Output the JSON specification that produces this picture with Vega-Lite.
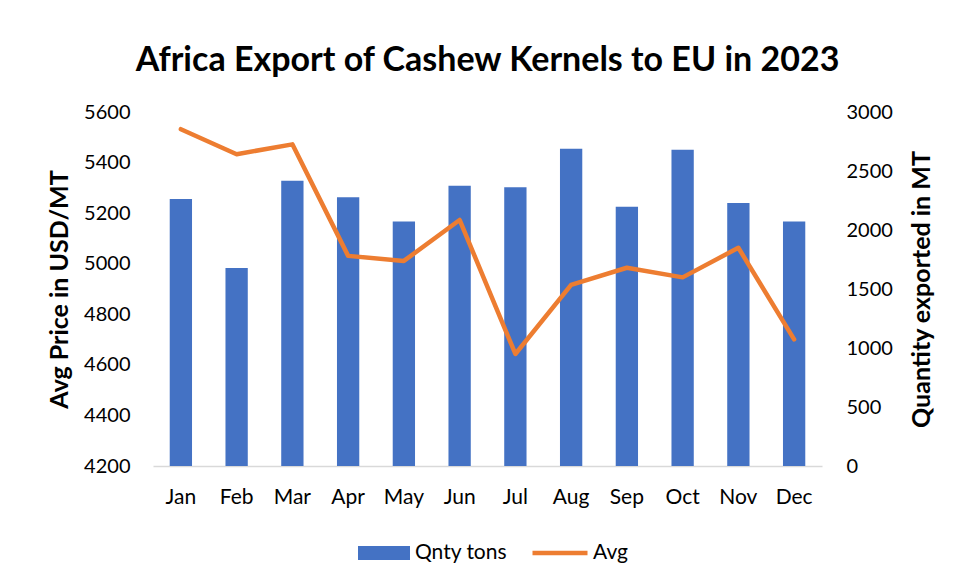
{
  "$schema": "https://vega.github.io/schema/vega-lite/v6.json",
  "width": 669,
  "height": 354,
  "autosize": {"type": "none"},
  "padding": {"left": 153, "top": 112, "right": 136, "bottom": 116},
  "background": "white",
  "title": {
    "text": "Africa Export of Cashew Kernels to EU in 2023",
    "font": "Lato",
    "fontSize": 34,
    "fontWeight": "bold",
    "color": "#000000",
    "anchor": "middle",
    "offset": 24
  },
  "config": {
    "view": {"stroke": null},
    "font": "Lato",
    "axis": {"labelFont": "Lato", "titleFont": "Lato", "labelColor": "#000000", "titleColor": "#000000"},
    "legend": {"labelFont": "Lato", "padding": 0}
  },
  "data": {
    "values": [
      {"month": "Jan", "qty": 2263, "avg": 5532},
      {"month": "Feb", "qty": 1678, "avg": 5433},
      {"month": "Mar", "qty": 2418, "avg": 5472},
      {"month": "Apr", "qty": 2277, "avg": 5031},
      {"month": "May", "qty": 2073, "avg": 5011},
      {"month": "Jun", "qty": 2376, "avg": 5173},
      {"month": "Jul", "qty": 2362, "avg": 4643},
      {"month": "Aug", "qty": 2689, "avg": 4916},
      {"month": "Sep", "qty": 2198, "avg": 4984},
      {"month": "Oct", "qty": 2681, "avg": 4946},
      {"month": "Nov", "qty": 2229, "avg": 5063},
      {"month": "Dec", "qty": 2073, "avg": 4701}
    ]
  },
  "encoding": {
    "x": {
      "field": "month",
      "type": "nominal",
      "sort": null,
      "scale": {"paddingInner": 0.6, "paddingOuter": 0.3},
      "axis": {
        "title": null,
        "labelAngle": 0,
        "labelFontSize": 21,
        "labelPadding": 20,
        "ticks": false,
        "domainColor": "#D9D9D9",
        "domainWidth": 1.5
      }
    }
  },
  "layer": [
    {
      "mark": {"type": "bar"},
      "encoding": {
        "y": {
          "field": "qty",
          "type": "quantitative",
          "scale": {"domain": [0, 3000]},
          "axis": {
            "orient": "right",
            "title": "Quantity exported in MT",
            "titleAngle": 270,
            "titleFontSize": 25,
            "titleFontWeight": "bold",
            "titlePadding": 42,
            "values": [0, 500, 1000, 1500, 2000, 2500, 3000],
            "format": "d",
            "labelFontSize": 20,
            "labelPadding": 24,
            "ticks": false,
            "domain": false,
            "grid": false
          }
        },
        "fill": {
          "datum": "Qnty tons",
          "type": "nominal",
          "scale": {"domain": ["Qnty tons"], "range": ["#4472C4"]},
          "legend": {
            "orient": "none",
            "legendX": 205,
            "legendY": 415,
            "title": null,
            "symbolType": "M-1,-0.27H1V0.27H-1Z",
            "symbolSize": 2704,
            "symbolStrokeWidth": 0,
            "labelFontSize": 21,
            "labelOffset": 5,
            "labelColor": "#000000"
          }
        }
      }
    },
    {
      "mark": {"type": "line", "color": "#ED7D31", "strokeWidth": 4.5, "strokeCap": "round", "strokeJoin": "round"},
      "encoding": {
        "y": {
          "field": "avg",
          "type": "quantitative",
          "scale": {"domain": [4200, 5600], "zero": false},
          "axis": {
            "orient": "left",
            "title": "Avg Price in USD/MT",
            "titleFontSize": 25,
            "titleFontWeight": "bold",
            "titlePadding": 11,
            "values": [4200, 4400, 4600, 4800, 5000, 5200, 5400, 5600],
            "format": "d",
            "labelFontSize": 20,
            "labelPadding": 23,
            "ticks": false,
            "domain": false,
            "grid": false
          }
        },
        "stroke": {
          "datum": "Avg",
          "type": "nominal",
          "scale": {"domain": ["Avg"], "range": ["#ED7D31"]},
          "legend": {
            "orient": "none",
            "legendX": 377,
            "legendY": 411,
            "title": null,
            "symbolType": "stroke",
            "symbolSize": 3025,
            "symbolStrokeWidth": 4.5,
            "labelFontSize": 21,
            "labelOffset": 3,
            "labelColor": "#000000"
          }
        }
      }
    }
  ],
  "resolve": {"scale": {"y": "independent", "fill": "independent", "stroke": "independent"}, "legend": {"fill": "independent", "stroke": "independent"}}
}
